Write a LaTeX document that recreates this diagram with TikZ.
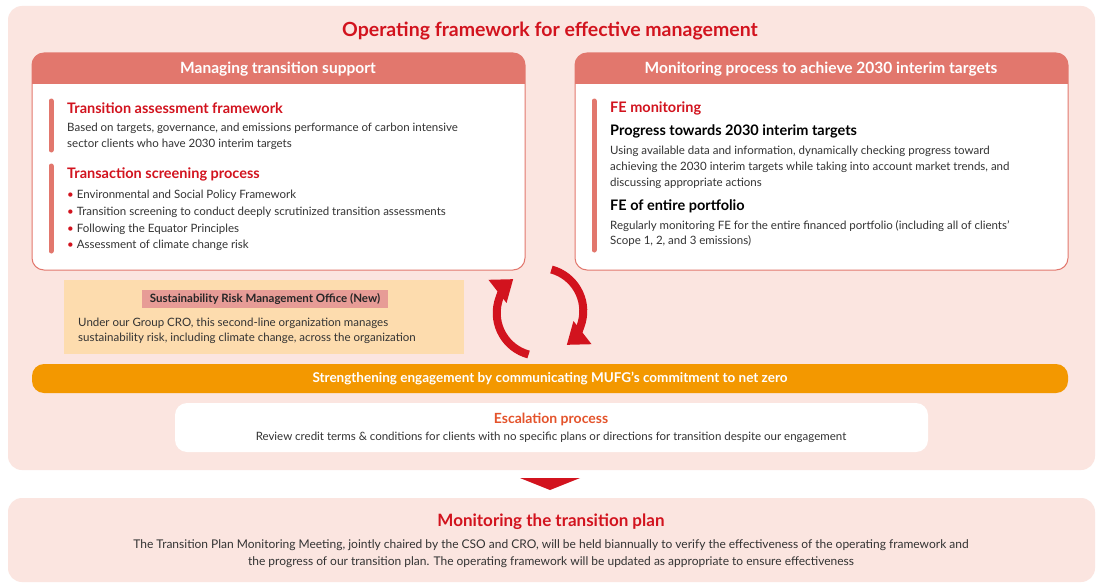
\documentclass[tikz,border=0pt]{standalone}
\usepackage{fontspec}
\setmainfont{Lato}
\usetikzlibrary{arrows.meta}
\definecolor{bgpink}{HTML}{FBE5E0}
\definecolor{mred}{HTML}{D2131E}
\definecolor{salmon}{HTML}{E2776D}
\definecolor{offbox}{HTML}{FDDCAE}
\definecolor{labpink}{HTML}{E79C96}
\definecolor{orng}{HTML}{F39800}
\definecolor{escol}{HTML}{E4532B}
\definecolor{txt}{HTML}{333333}
\tikzset{
 body/.style={anchor=west,inner sep=0pt,font=\fontsize{11.5}{14}\selectfont,text=txt},
 head/.style={anchor=west,inner sep=0pt,font=\fontsize{14.5}{16}\selectfont\bfseries,text=mred},
 bhead/.style={anchor=west,inner sep=0pt,font=\fontsize{14.5}{16}\selectfont\bfseries,text=black},
 bar/.style={line width=5pt,salmon,line cap=round},
 cyc/.style={line width=8pt,mred,-{Triangle[length=20pt,width=28pt]}},
}
\begin{document}
\begin{tikzpicture}[x=1pt,y=-1pt]
\useasboundingbox (0,0) rectangle (1100,586);
\fill[white] (0,0) rectangle (1100,586);
% outer
\fill[bgpink,rounded corners=14pt] (8,6) rectangle (1095,470);
\node[font=\fontsize{19.5}{22}\selectfont\bfseries,text=mred] (title) at (550,31) {Operating framework for effective management};
% left panel
\draw[salmon,fill=white,rounded corners=12pt,line width=1pt] (32,53) rectangle (525,270);
\begin{scope}
\clip[rounded corners=12pt] (32,53) rectangle (525,270);
\fill[salmon] (32,53) rectangle (525,84);
\end{scope}
\node[text=white,font=\fontsize{15.5}{18}\selectfont\bfseries] (lh) at (278,69) {Managing transition support};
\draw[bar] (51,101) -- (51,150);
\draw[bar] (51,166) -- (51,251);
\node[head] (taf) at (67,108) {Transition assessment framework};
\node[body] (taf1) at (67,128) {Based on targets, governance, and emissions performance of carbon intensive};
\node[body] (taf2) at (67,144) {sector clients who have 2030 interim targets};
\node[head] (tsp) at (67,174) {Transaction screening process};
\node[body] (b1) at (67,195) {{\color{mred}•} Environmental and Social Policy Framework};
\node[body] (b2) at (67,212) {{\color{mred}•} Transition screening to conduct deeply scrutinized transition assessments};
\node[body] (b3) at (67,229) {{\color{mred}•} Following the Equator Principles};
\node[body] (b4) at (67,245) {{\color{mred}•} Assessment of climate change risk};
% right panel
\draw[salmon,fill=white,rounded corners=12pt,line width=1pt] (575,53) rectangle (1068,270);
\begin{scope}
\clip[rounded corners=12pt] (575,53) rectangle (1068,270);
\fill[salmon] (575,53) rectangle (1068,84);
\end{scope}
\node[text=white,font=\fontsize{15.5}{18}\selectfont\bfseries] (rh) at (821,69) {Monitoring process to achieve 2030 interim targets};
\draw[bar] (594,101) -- (594,250);
\node[head] (fem) at (610,108) {FE monitoring};
\node[bhead] (prog) at (610,131) {Progress towards 2030 interim targets};
\node[body] (p1) at (610,151) {Using available data and information, dynamically checking progress toward};
\node[body] (p2) at (610,167) {achieving the 2030 interim targets while taking into account market trends, and};
\node[body] (p3) at (610,183) {discussing appropriate actions};
\node[bhead] (fee) at (610,206) {FE of entire portfolio};
\node[body] (e1) at (610,226) {Regularly monitoring FE for the entire financed portfolio (including all of clients’};
\node[body] (e2) at (610,241) {Scope 1, 2, and 3 emissions)};
% office box
\fill[offbox] (64,280) rectangle (464,354);
\node[fill=labpink,inner xsep=8pt,inner ysep=3pt,font=\fontsize{11.5}{14}\selectfont\bfseries,text=black!85] (srm) at (265,299) {Sustainability Risk Management Office (New)};
\node[body] (o1) at (78,323) {Under our Group CRO, this second-line organization manages};
\node[body] (o2) at (78,338) {sustainability risk, including climate change, across the organization};
% cycle arrows
\coordinate (cc) at (540,312);
\draw[cyc] (528.6,354.5) arc[start angle=105,end angle=232,radius=43];
\draw[cyc] (551.4,269.5) arc[start angle=-75,end angle=52,radius=43];
% orange bar
\fill[orng,rounded corners=12pt] (32,364) rectangle (1068,393);
\node[text=white,font=\fontsize{13.5}{16}\selectfont\bfseries] (eng) at (550,379) {Strengthening engagement by communicating MUFG’s commitment to net zero};
% escalation
\fill[white,rounded corners=12pt] (175,403) rectangle (928,452);
\node[text=escol,font=\fontsize{14}{16}\selectfont\bfseries] (esc) at (551,419) {Escalation process};
\node[text=txt,font=\fontsize{11.5}{14}\selectfont] (esc1) at (551,437) {Review credit terms \& conditions for clients with no specific plans or directions for transition despite our engagement};
% down triangle
\fill[mred] (520,478) -- (580,478) -- (550,490) -- cycle;
% bottom box
\fill[bgpink,rounded corners=14pt] (8,498) rectangle (1095,582);
\node[text=mred,font=\fontsize{17}{20}\selectfont\bfseries] (mon) at (551,522) {Monitoring the transition plan};
\node[text=txt,font=\fontsize{12}{14}\selectfont] (m1) at (551,545) {The Transition Plan Monitoring Meeting, jointly chaired by the CSO and CRO, will be held biannually to verify the effectiveness of the operating framework and};
\node[text=txt,font=\fontsize{12}{14}\selectfont] (m2) at (551,562) {the progress of our transition plan. The operating framework will be updated as appropriate to ensure effectiveness};
\end{tikzpicture}
\end{document}
